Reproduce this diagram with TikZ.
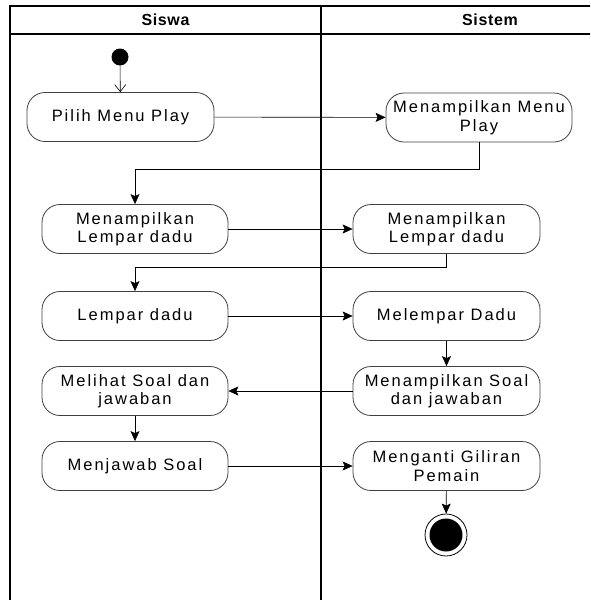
\documentclass[tikz,border=0pt]{standalone}
\usepackage{fontspec}
\setmainfont{Liberation Sans}[LetterSpace=12]
\usetikzlibrary{arrows.meta,positioning}

\begin{document}
\begin{tikzpicture}[x=1pt,y=-1pt,
  act/.style={draw=black!75, thick, rounded corners=18pt, minimum width=187pt, minimum height=49pt, align=center, inner sep=2pt, font=\fontsize{16.5}{18.5}\selectfont},
  flow/.style={-{Stealth[length=10pt,width=9pt,inset=2pt]}, semithick},
  lane/.style={line width=1.1pt},
  lanetitle/.style={font=\fontsize{16}{18}\selectfont\bfseries\addfontfeatures{LetterSpace=4}},
  startnode/.style={circle, fill, inner sep=0pt, minimum size=17pt},
  stopnode/.style={circle, draw, thick, inner sep=0pt, minimum size=42pt,
    path picture={\fill (path picture bounding box.center) circle (16.5pt);}}]
\clip (0,0) rectangle (590,600);
% swimlanes
\draw[lane] (660,6) -- (10,6) -- (10,600);
\draw[lane] (10,34) -- (660,34);
\draw[lane] (321,6) -- (321,600);
\node[lanetitle] (siswa) at (165.5,20) {Siswa};
\node[lanetitle] (sistem) at (490,20) {Sistem};

% activities
\node[startnode] (start) at (120,57) {};
\node[act] (pilih) at (120.5,117) {Pilih Menu Play};
\node[act, minimum width=186pt] (menuplay) at (479,117.5) {Menampilkan Menu\\Play};
\node[act, minimum width=186pt] (tampil1) at (135,229) {Menampilkan\\Lempar dadu};
\node[act] (tampil2) at (446.5,229) {Menampilkan\\Lempar dadu};
\node[act, minimum width=186pt] (lempar) at (135,316) {Lempar dadu};
\node[act] (melempar) at (446.5,316) {Melempar Dadu};
\node[act, minimum width=186pt] (melihat) at (135,391) {Melihat Soal dan\\jawaban};
\node[act] (soal) at (446.5,391) {Menampilkan Soal\\dan jawaban};
\node[act, minimum width=186pt] (jawab) at (135,466) {Menjawab Soal};
\node[act] (ganti) at (446.5,466) {Menganti Giliran\\Pemain};
\node[stopnode] (stop) at (446,535) {};

% transitions
\draw[semithick, -{Straight Barb[length=7pt,width=11pt]}] (start) -- (pilih);
\draw[flow] (pilih) -- (menuplay);
\draw[flow] (menuplay.south) -- ++(0,27) -| (tampil1.north);
\draw[flow] (tampil1) -- (tampil2);
\draw[flow] (tampil2.south) -- ++(0,13) -| (lempar.north);
\draw[flow] (lempar) -- (melempar);
\draw[flow] (melempar) -- (soal);
\draw[flow] (soal) -- (melihat);
\draw[flow] (melihat) -- (jawab);
\draw[flow] (jawab) -- (ganti);
\draw[flow] (ganti) -- (stop);
\end{tikzpicture}
\end{document}
